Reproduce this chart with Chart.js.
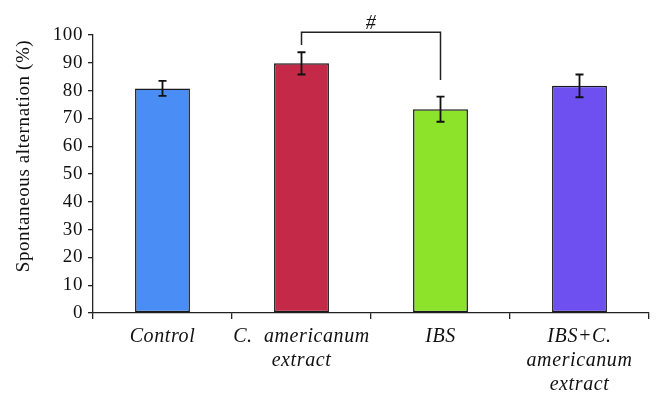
<!DOCTYPE html>
<html>
<head>
<meta charset="utf-8">
<script src="https://cdn.jsdelivr.net/npm/chart.js@4/dist/chart.umd.min.js"></script>
<style>
html,body{margin:0;padding:0;background:#fff;}
#wrap{width:665px;height:404px;}
</style>
</head>
<body>
<div id="wrap"><canvas id="c" width="665" height="404"></canvas></div>
<script>
const categories = [["Control"], ["C.  americanum", "extract"], ["IBS"], ["IBS+C.", "americanum", "extract"]];
const values = [80.8, 89.8, 73.3, 81.7];
const errors = [2.7, 4.0, 4.5, 4.1];
const colors = ["#4a8ef5", "#c42a48", "#8de32a", "#6e50f0"];
const yTicks = [0, 10, 20, 30, 40, 50, 60, 70, 80, 90, 100];
const yTitle = "Spontaneous alternation (%)";
const bracket = { from: 1, to: 2, level: 101.0, leftEnd: 96.4, rightEnd: 83.8, label: "#" };

const serif = "'Liberation Serif', 'DejaVu Serif', serif";

const overlay = {
  id: 'overlay',
  beforeDraw(chart) {
    chart.ctx.letterSpacing = '0.6px';
  },
  afterDatasetsDraw(chart) {
    const ctx = chart.ctx;
    const x = chart.scales.x, y = chart.scales.y;
    ctx.save();
    ctx.strokeStyle = '#111';
    ctx.lineWidth = 1.8;
    values.forEach((v, i) => {
      const cx = x.getPixelForValue(i);
      const t = y.getPixelForValue(v + errors[i]);
      const b = y.getPixelForValue(v - errors[i]);
      ctx.beginPath();
      ctx.moveTo(cx, t); ctx.lineTo(cx, b);
      ctx.moveTo(cx - 4, t); ctx.lineTo(cx + 4, t);
      ctx.moveTo(cx - 4, b); ctx.lineTo(cx + 4, b);
      ctx.stroke();
    });
    const x1 = x.getPixelForValue(bracket.from);
    const x2 = x.getPixelForValue(bracket.to);
    const yl = y.getPixelForValue(bracket.level);
    ctx.lineWidth = 1.5;
    ctx.strokeStyle = '#222';
    ctx.beginPath();
    ctx.moveTo(x1, y.getPixelForValue(bracket.leftEnd));
    ctx.lineTo(x1, yl);
    ctx.lineTo(x2, yl);
    ctx.lineTo(x2, y.getPixelForValue(bracket.rightEnd));
    ctx.stroke();
    ctx.fillStyle = '#111';
    ctx.font = "italic 20px " + serif;
    ctx.textAlign = 'center';
    ctx.textBaseline = 'alphabetic';
    ctx.fillText(bracket.label, (x1 + x2) / 2, yl - 3);
    // y-axis title
    ctx.translate(24, 156);
    ctx.rotate(-Math.PI / 2);
    ctx.font = "19px " + serif;
    ctx.textBaseline = 'middle';
    ctx.fillText(yTitle, 0, 0);
    ctx.restore();
  }
};

new Chart(document.getElementById('c'), {
  type: 'bar',
  data: {
    labels: categories,
    datasets: [{
      data: values,
      backgroundColor: colors,
      borderColor: '#1a1a1a',
      borderWidth: 1.5,
      borderSkipped: false,
      barPercentage: 0.79,
      categoryPercentage: 0.5
    }]
  },
  options: {
    responsive: false,
    animation: false,
    devicePixelRatio: 1,
    layout: { padding: { top: 35, right: 16, left: 0, bottom: 0 } },
    plugins: { legend: { display: false }, tooltip: { enabled: false } },
    scales: {
      x: {
        offset: true,
        grid: { offset: true, drawOnChartArea: false, drawTicks: true, tickLength: 6, color: '#222', lineWidth: 1.3 },
        border: { color: '#222', width: 1.3 },
        ticks: { color: '#111', font: { family: serif, size: 20, style: 'italic', lineHeight: 1.2 }, padding: 6, maxRotation: 0, autoSkip: false },
        afterFit(s) { s.height = 91; }
      },
      y: {
        min: 0, max: 100,
        afterBuildTicks(s) { s.ticks = yTicks.map(v => ({ value: v })); },
        grid: { drawOnChartArea: false, drawTicks: true, tickLength: 5, color: '#222', lineWidth: 1.3 },
        border: { color: '#222', width: 1.3 },
        ticks: { color: '#111', font: { family: serif, size: 19 }, padding: 5 },
        afterFit(s) { s.width = 93; }
      }
    }
  },
  plugins: [overlay]
});
</script>
</body>
</html>
